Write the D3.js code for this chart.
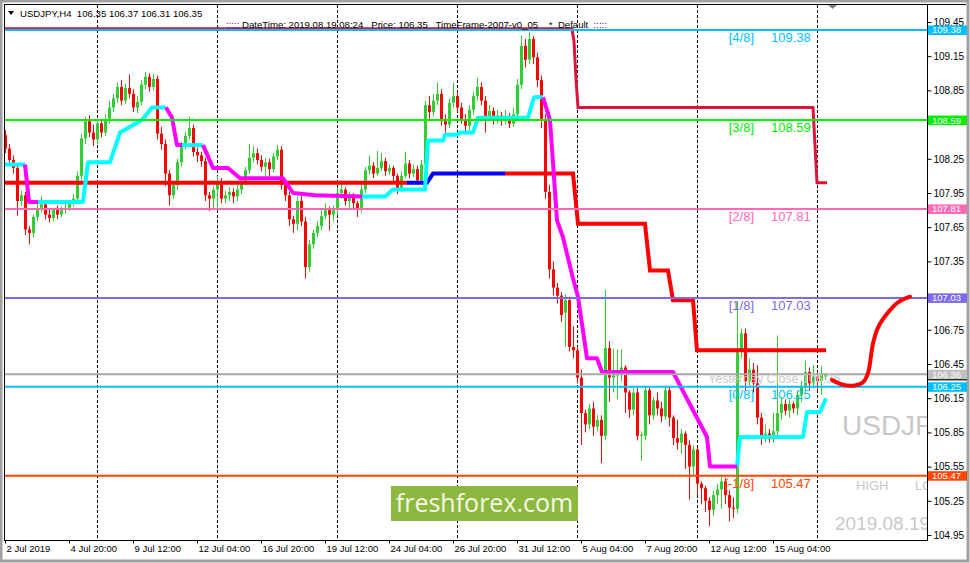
<!DOCTYPE html>
<html><head><meta charset="utf-8">
<script src="https://cdn.jsdelivr.net/npm/d3@7"></script>
<style>body{margin:0;background:#fff;overflow:hidden}svg{display:block}</style>
</head><body><svg id="c" width="970" height="563"></svg>
<script>
// ---------------- DATA ----------------
const symbol = "USDJPY";
const headerText = "USDJPY,H4  106.35 106.37 106.31 106.35";
const infoText = "DateTime: 2019.08.19 08:24   Price: 106.35   TimeFrame-2007-v0_05    *  Default  ";

const opens = [108.46,108.34,108.24,108.17,107.88,107.93,107.63,107.60,107.74,107.82,107.85,107.76,107.73,107.80,107.76,107.80,107.82,107.86,107.90,108.10,
108.43,108.58,108.48,108.42,108.56,108.48,108.60,108.70,108.78,108.88,108.76,108.87,108.82,108.70,108.75,108.90,108.97,108.88,108.95,108.47,
108.38,108.12,107.93,108.02,108.22,108.36,108.45,108.52,108.31,108.28,108.23,107.93,107.90,107.98,108.05,107.90,107.93,107.96,107.92,107.98,
108.05,108.15,108.26,108.30,108.24,108.18,108.22,108.16,108.27,108.33,108.02,107.93,107.72,107.68,107.88,107.70,107.30,107.50,107.60,107.66,
107.75,107.80,107.76,107.80,107.95,107.98,107.88,107.92,107.86,107.80,107.98,108.15,108.19,108.12,108.17,108.23,108.14,108.17,108.10,107.99,
108.10,108.21,108.12,108.16,108.06,108.20,108.72,108.66,108.76,108.82,108.58,108.55,108.74,108.80,108.70,108.60,108.54,108.68,108.80,108.88,
108.76,108.62,108.67,108.60,108.63,108.58,108.62,108.56,108.64,108.90,109.24,109.12,109.30,109.14,108.94,108.60,107.96,107.28,107.12,107.05,
106.90,107.01,106.60,106.57,106.33,106.02,105.92,106.06,105.90,105.96,105.82,106.59,106.33,106.35,106.37,106.42,106.20,106.05,106.20,105.82,
105.82,106.22,106.00,106.13,106.06,105.99,106.22,105.98,105.80,105.76,105.84,105.74,105.55,105.70,105.40,105.36,105.25,105.17,105.30,105.35,
105.42,105.30,105.19,105.18,106.57,106.72,106.30,106.40,106.28,105.98,105.80,105.84,105.79,105.86,106.02,106.10,106.04,106.10,106.06,106.18,
106.26,106.38,106.28,106.34,106.30,106.35];
const highs = [108.50,108.38,108.28,108.20,107.97,107.96,107.66,107.76,107.86,107.92,107.88,107.80,107.82,107.84,107.83,107.86,107.89,107.94,108.14,108.47,
108.62,108.63,108.55,108.60,108.60,108.64,108.76,108.82,108.92,108.94,108.91,108.99,108.86,108.80,108.94,109.01,109.00,108.99,108.98,108.53,
108.42,108.15,108.05,108.25,108.40,108.49,108.62,108.55,108.35,108.31,108.26,107.96,108.01,108.10,108.08,107.97,108.00,107.99,108.02,108.08,
108.18,108.38,108.36,108.34,108.28,108.26,108.25,108.30,108.37,108.36,108.05,107.96,107.75,107.92,107.92,107.74,107.54,107.63,107.70,107.80,
107.86,107.83,107.84,108.00,108.03,108.00,107.96,107.95,107.88,108.02,108.18,108.28,108.22,108.32,108.30,108.26,108.20,108.19,108.12,108.14,
108.31,108.24,108.20,108.19,108.24,108.76,108.80,108.82,108.92,108.86,108.64,108.78,108.92,108.84,108.74,108.64,108.72,108.84,108.96,108.92,
108.80,108.72,108.70,108.68,108.66,108.68,108.65,108.70,108.95,109.33,109.30,109.36,109.33,109.18,108.98,108.64,108.02,107.35,107.16,107.08,
107.06,107.04,106.78,106.60,106.40,106.05,106.10,106.12,106.00,106.00,107.10,106.65,106.58,106.58,106.58,106.44,106.22,106.24,106.24,105.86,
106.26,106.24,106.16,106.20,106.12,106.26,106.25,106.00,105.96,105.88,105.86,105.78,105.74,105.72,105.42,105.38,105.28,105.34,105.40,105.48,
105.45,105.34,105.28,107.00,106.76,106.76,106.50,106.46,106.44,106.02,105.92,105.88,106.02,106.70,106.16,106.14,106.14,106.12,106.22,106.30,
106.48,106.42,106.44,106.38,106.43,106.37];
const lows = [108.30,108.20,108.12,107.75,107.84,107.58,107.50,107.56,107.70,107.78,107.72,107.69,107.70,107.72,107.74,107.77,107.79,107.83,107.88,108.06,
108.38,108.44,108.36,108.38,108.44,108.45,108.56,108.66,108.74,108.72,108.73,108.78,108.66,108.65,108.72,108.86,108.84,108.85,108.42,108.33,
108.01,107.84,107.90,107.98,108.18,108.33,108.42,108.27,108.22,108.18,107.88,107.79,107.82,107.80,107.86,107.86,107.88,107.86,107.88,107.94,
108.02,108.12,108.22,108.20,108.14,108.08,108.10,108.13,108.24,107.98,107.88,107.66,107.60,107.62,107.66,107.20,107.26,107.46,107.56,107.62,
107.72,107.62,107.70,107.76,107.90,107.84,107.82,107.80,107.74,107.78,107.95,108.11,108.08,108.10,108.14,108.10,108.11,108.05,107.94,107.96,
108.08,108.08,108.09,108.02,108.03,108.18,108.58,108.62,108.72,108.54,108.48,108.52,108.70,108.66,108.56,108.48,108.50,108.64,108.76,108.72,
108.48,108.58,108.55,108.56,108.54,108.55,108.52,108.53,108.60,108.86,109.05,109.08,109.08,108.88,108.52,107.90,107.20,107.05,106.98,106.82,
106.60,106.56,106.50,106.28,105.74,105.85,105.88,105.82,105.86,105.58,105.78,106.12,106.20,106.14,106.30,106.02,105.98,106.00,105.78,105.60,
105.78,105.92,105.96,106.00,105.94,105.96,105.90,105.74,105.70,105.66,105.53,105.26,105.48,105.30,105.22,105.15,105.03,105.12,105.22,105.18,
105.22,105.07,105.10,105.14,106.50,106.22,106.26,106.20,105.92,105.74,105.76,105.76,105.76,105.82,105.96,106.00,105.98,106.02,106.00,106.12,
106.22,106.22,106.24,106.22,106.18,106.31];
const closes = [108.34,108.24,108.17,107.88,107.93,107.63,107.60,107.74,107.82,107.85,107.76,107.73,107.80,107.76,107.80,107.82,107.86,107.90,108.10,108.43,
108.58,108.48,108.42,108.56,108.48,108.60,108.70,108.78,108.88,108.76,108.87,108.82,108.70,108.75,108.90,108.97,108.88,108.95,108.47,108.38,
108.12,107.93,108.02,108.22,108.36,108.45,108.52,108.31,108.28,108.23,107.93,107.90,107.98,108.05,107.90,107.93,107.96,107.92,107.98,108.05,
108.15,108.26,108.30,108.24,108.18,108.22,108.16,108.27,108.33,108.02,107.93,107.72,107.68,107.88,107.70,107.30,107.50,107.60,107.66,107.75,
107.80,107.76,107.80,107.95,107.98,107.88,107.92,107.86,107.80,107.98,108.15,108.19,108.12,108.17,108.23,108.14,108.17,108.10,107.99,108.10,
108.21,108.12,108.16,108.06,108.20,108.72,108.66,108.76,108.82,108.58,108.55,108.74,108.80,108.70,108.60,108.54,108.68,108.80,108.88,108.76,
108.62,108.67,108.60,108.63,108.58,108.62,108.56,108.64,108.90,109.24,109.12,109.30,109.14,108.94,108.60,107.96,107.28,107.12,107.05,106.88,
107.01,106.60,106.57,106.33,106.02,105.92,106.06,105.90,105.96,105.82,106.59,106.33,106.35,106.37,106.42,106.20,106.05,106.20,105.82,105.83,
106.22,106.00,106.13,106.06,105.99,106.22,105.98,105.80,105.76,105.84,105.74,105.55,105.70,105.40,105.36,105.25,105.17,105.30,105.35,105.42,
105.30,105.19,105.18,106.57,106.72,106.30,106.40,106.28,105.98,105.80,105.84,105.79,105.86,106.02,106.10,106.04,106.10,106.06,106.18,106.26,
106.38,106.28,106.34,106.30,106.36,106.35];

const priceTicks = [109.45,109.15,108.85,108.25,107.95,107.65,107.35,106.75,106.45,106.15,105.85,105.55,105.25,104.95];
const timeTickBars = [0,16,32,48,64,80,96,112,128,144,160,176,192];
const timeTickLabels = ["2 Jul 2019","4 Jul 20:00","9 Jul 12:00","12 Jul 04:00","16 Jul 20:00","19 Jul 12:00","24 Jul 04:00","26 Jul 20:00","31 Jul 12:00","5 Aug 04:00","7 Aug 20:00","12 Aug 12:00","15 Aug 04:00"];
const weekStartBars = [23,53,83,113,143,173,203];

// Murrey levels
const levelNames  = ["[4/8]","[3/8]","[2/8]","[1/8]","[0/8]","[-1/8]"];
const levelPrices = [109.38,108.59,107.81,107.03,106.25,105.47];
const levelColors = ["#00BFFF","#00EE00","#FF69B4","#7B68EE","#00BFFF","#FF4500"];
const yesterdayClose = 106.36;
const bidPrice = 106.35;

// trailing trend line segments [barIndex, price]
const trendUp = [
 [[0,108.20],[5,108.20]],
 [[8.25,107.87],[19.5,107.87],[20.75,108.22],[26.25,108.22],[28.75,108.48],[34.25,108.59],[36.75,108.70],[40.25,108.70]],
 [[44.25,108.37],[49.5,108.37]],
 [[89.25,107.92],[95,107.92],[97,107.98],[105,107.98],[105.75,108.41],[109.5,108.41],[110,108.46],[113,108.46],[113.75,108.48],[117,108.48],[118.25,108.61],[130.75,108.61],[132.25,108.79],[134.5,108.79]],
 [[183,105.55],[183.75,105.81],[199.5,105.81],[200.5,106.03],[203.75,106.03],[205.25,106.15]]
];
const trendDown = [
 [[5,108.20],[6,107.87],[8.25,107.87]],
 [[40.25,108.70],[41.75,108.61],[43,108.37],[44.25,108.37]],
 [[49.5,108.37],[52,108.17],[55.75,108.17],[58.75,108.08],[69.5,108.08],[72,107.95],[77.5,107.93],[89.25,107.92]],
 [[134.5,108.79],[136.25,108.59],[138,107.71],[139.5,107.56],[142,107.20],[143.25,107.04],[145.5,106.50],[148,106.50],[149.25,106.38],[167,106.38],[175.5,105.81],[176.25,105.55],[183,105.55]]
];
// step level line (red / blue parts)
const stepRed = [
 [[0,108.04],[100.5,108.04]],
 [[125,108.12],[142,108.12],[143.25,107.68],[160,107.68],[161.25,107.27],[165.75,107.27],[167,107.01],[172,107.01],[173,106.57],[205.25,106.57]]
];
const stepBlue = [[100.5,108.04],[105.5,108.04],[107,108.12],[125,108.12]];
// crimson step line
const crimsonLine = [[0,109.39],[141.75,109.39],[142.25,109.28],[142.75,108.95],[143.25,108.70],[202,108.70],[203,108.04],[205.5,108.04]];
// projected curve [barIndex, price]
const projCurve = [[206.75,106.31],[209.25,106.27],[212,106.26],[214.5,106.29],[215.75,106.37],[217,106.63],[218.25,106.77],[220.5,106.89],[223.25,106.99],[226.25,107.04]];

// ---------------- DRAW ----------------
const svg = d3.select("#c");
const F = "'Liberation Sans', Arial, sans-serif";
const P = {l:5, t:5, r:927, b:540};
const x = d3.scaleLinear().domain([0, closes.length-1]).range([5, 825]);
const y = d3.scaleLinear().domain([104.95, 109.45]).range([535, 22]);

// window frame
svg.append("rect").attr("x",0).attr("y",0).attr("width",970).attr("height",563).attr("fill","#fff");
svg.append("rect").attr("x",1).attr("y",1).attr("width",967).attr("height",560).attr("fill","none").attr("stroke","#A0A0A0").attr("stroke-width",3);

svg.append("defs").append("clipPath").attr("id","pc").append("rect")
  .attr("x",P.l).attr("y",P.t).attr("width",P.r-P.l).attr("height",P.b-P.t);
const g = svg.append("g").attr("clip-path","url(#pc)");

// week separators
g.selectAll("line.sep").data(weekStartBars).join("line")
  .attr("x1",d=>Math.round(x(d))+0.5).attr("x2",d=>Math.round(x(d))+0.5)
  .attr("y1",P.t).attr("y2",P.b).attr("stroke","#000").attr("stroke-width",1).attr("stroke-dasharray","3,2");

// watermark texts
g.append("text").attr("x",x(closes.length-1)+17).attr("y",y(105.85)+3).text(symbol)
  .attr("font-family",F).attr("font-size",28).attr("fill","#C8C8C8");
g.append("text").attr("x",x(closes.length-1)+31).attr("y",y(105.47)+14).text("HIGH")
  .attr("font-family",F).attr("font-size",13).attr("fill","#C8C8C8");
g.append("text").attr("x",x(closes.length-1)+90).attr("y",y(105.47)+14).text("LOW")
  .attr("font-family",F).attr("font-size",13).attr("fill","#C8C8C8");
g.append("text").attr("x",x(closes.length-1)+10).attr("y",y(104.95)-5).text("2019.08.19 08:24")
  .attr("font-family",F).attr("font-size",19).attr("fill","#C8C8C8");

// candles
const bars = closes.map((c,i)=>({i,o:opens[i],h:highs[i],l:lows[i],c}));
const col = d=> d.c>=d.o ? "#32CD32" : "#FF0000";
g.selectAll("line.wick").data(bars).join("line")
  .attr("x1",d=>x(d.i)+0.5).attr("x2",d=>x(d.i)+0.5)
  .attr("y1",d=>y(d.h)).attr("y2",d=>y(d.l)).attr("stroke",col).attr("stroke-width",1);
g.selectAll("rect.body").data(bars).join("rect")
  .attr("x",d=>x(d.i)-1).attr("width",3)
  .attr("y",d=>y(Math.max(d.o,d.c))).attr("height",d=>Math.max(1,Math.abs(y(d.o)-y(d.c))))
  .attr("fill",col);

const ln = d3.line().x(d=>x(d[0])).y(d=>y(d[1]));

// crimson step
g.append("path").attr("d",ln(crimsonLine)).attr("fill","none").attr("stroke","#DC143C").attr("stroke-width",3);
// step level
stepRed.forEach(s=>g.append("path").attr("d",ln(s)).attr("fill","none").attr("stroke","#FF0000").attr("stroke-width",4));
g.append("path").attr("d",ln(stepBlue)).attr("fill","none").attr("stroke","#0000FF").attr("stroke-width",4);
// trailing trend
trendUp.forEach(s=>g.append("path").attr("d",ln(s)).attr("fill","none").attr("stroke","#00FFFF").attr("stroke-width",4).attr("stroke-linejoin","round"));
trendDown.forEach(s=>g.append("path").attr("d",ln(s)).attr("fill","none").attr("stroke","#FF00FF").attr("stroke-width",4).attr("stroke-linejoin","round"));

// level lines
g.append("line").attr("x1",P.l).attr("x2",P.r).attr("y1",y(yesterdayClose)).attr("y2",y(yesterdayClose))
  .attr("stroke","#A8A8A8").attr("stroke-width",2);
g.selectAll("line.lvl").data(levelPrices).join("line")
  .attr("x1",P.l).attr("x2",P.r).attr("y1",d=>y(d)).attr("y2",d=>y(d))
  .attr("stroke",(d,i)=>levelColors[i]).attr("stroke-width",2);
// level labels
levelPrices.forEach((p,i)=>{
  g.append("text").attr("x",754).attr("y",y(p)+12).attr("text-anchor","end").text(levelNames[i])
    .attr("font-family",F).attr("font-size",13).attr("fill",levelColors[i]);
  g.append("text").attr("x",771).attr("y",y(p)+12).text(p.toFixed(2))
    .attr("font-family",F).attr("font-size",13).attr("fill",levelColors[i]);
});
g.append("text").attr("x",708).attr("y",y(yesterdayClose)+9).text("Yesterday Close "+yesterdayClose.toFixed(2))
  .attr("font-family",F).attr("font-size",12.5).attr("fill","#C8C8C8");

// projected curve
g.append("path").attr("d",d3.line().curve(d3.curveCatmullRom).x(d=>x(d[0])).y(d=>y(d[1]))(projCurve))
  .attr("fill","none").attr("stroke","#FF0000").attr("stroke-width",4).attr("stroke-linecap","round");

// freshforex box
const fb = g.append("g");
fb.append("rect").attr("x",x(96.5)).attr("y",y(105.38)).attr("width",x(143.25)-x(96.5)).attr("height",35).attr("fill","#8DB83F");
fb.append("text").attr("x",(x(96.5)+x(143.25))/2).attr("y",y(105.38)+26).attr("text-anchor","middle")
  .text("freshforex.com").attr("font-family","'Open Sans', sans-serif").attr("font-size",25).attr("fill","#F4F8E6");

// frame
svg.append("line").attr("x1",4.5).attr("x2",4.5).attr("y1",4).attr("y2",P.b).attr("stroke","#000");
svg.append("line").attr("x1",4).attr("x2",966).attr("y1",4.5).attr("y2",4.5).attr("stroke","#000");

// right axis
const ra = svg.append("g").attr("transform",`translate(${P.r}.5,0)`)
  .call(d3.axisRight(y).tickValues(priceTicks).tickSize(4).tickPadding(2).tickFormat(d3.format(".2f")));
ra.select(".domain").attr("d",`M0,4V${P.b}`).attr("stroke","#000");
ra.selectAll("text").attr("font-family",F).attr("font-size",10).attr("fill","#000");

// level boxes on axis
const boxes = [{p:bidPrice,c:"#000"}].concat(levelPrices.map((p,i)=>({p,c:levelColors[i]}))).concat([{p:yesterdayClose,c:"#C0C0C0"}]);
boxes.forEach(b=>{
  svg.append("rect").attr("x",P.r+1).attr("y",y(b.p)-4.5).attr("width",39).attr("height",9.5).attr("fill",b.c);
  if(b.p!==bidPrice) svg.append("text").attr("x",P.r+5).attr("y",y(b.p)+3.5).text(b.p.toFixed(2))
    .attr("font-family",F).attr("font-size",9.5).attr("fill","#fff");
});

// bottom axis
const ba = svg.append("g").attr("transform",`translate(0,${P.b}.5)`)
  .call(d3.axisBottom(x).tickValues(timeTickBars).tickSize(3).tickFormat((d,i)=>timeTickLabels[i]));
ba.select(".domain").attr("d",`M4,0H${P.r+1}`).attr("stroke","#000");
ba.selectAll(".tick line").attr("stroke","#000");
ba.selectAll("text").attr("text-anchor","start").attr("dx",1).attr("dy","0.55em")
  .attr("font-family",F).attr("font-size",9.5).attr("fill","#000");

// header
svg.append("path").attr("d","M8,11 L14,11 L11,15 Z").attr("fill","#000");
svg.append("text").attr("x",20).attr("y",17).text(headerText).attr("font-family",F).attr("font-size",9.6).attr("fill","#000").style("white-space","pre");
const it = svg.append("text").attr("x",226).attr("y",28).attr("font-family",F).attr("font-size",9.6).style("white-space","pre");
it.append("tspan").text("::::: ").attr("fill","#800080");
it.append("tspan").text(infoText).attr("fill","#000");
it.append("tspan").text(":::::").attr("fill","#800080");

// chart shift marker
svg.append("path").attr("d",`M${x(closes.length-1)+3},5 L${x(closes.length-1)+12},5 L${x(closes.length-1)+7.5},9 Z`).attr("fill","#808080");
</script></body></html>
